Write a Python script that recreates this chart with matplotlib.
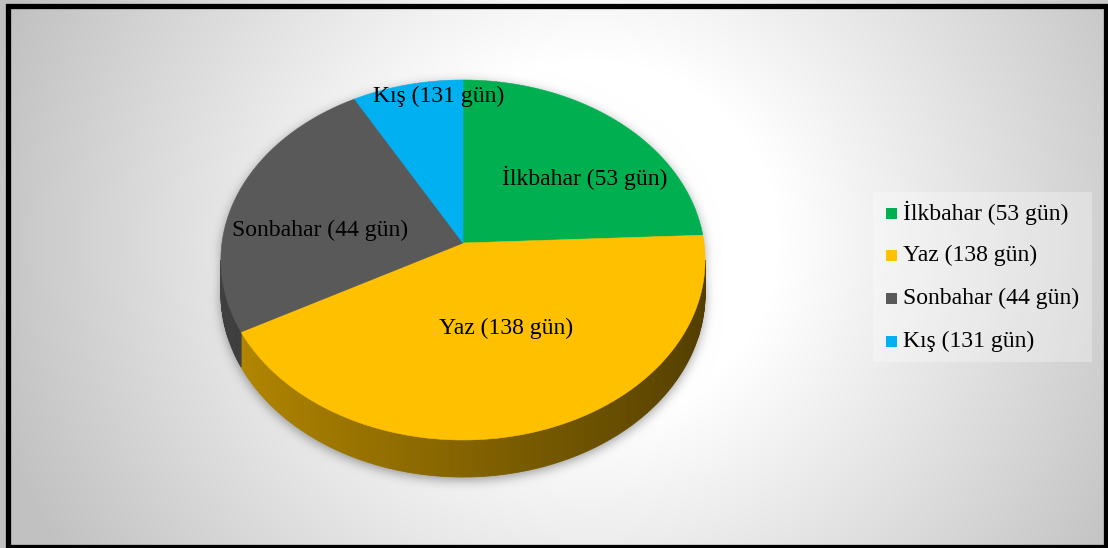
import numpy as np
import matplotlib
matplotlib.use('Agg')
import matplotlib.pyplot as plt
from matplotlib.patches import Polygon, Rectangle
from matplotlib.path import Path
from matplotlib.colors import to_rgb

# Data (slice shares, labels as printed)
seasons = ['İlkbahar (53 gün)', 'Yaz (138 gün)', 'Sonbahar (44 gün)', 'Kış (131 gün)']
shares = [24.3, 42.8, 24.8, 8.1]
colors = ['#00B050', '#FFC000', '#595959', '#00B0F0']

# label spots on the disk: (angle in degrees, radius fraction)
label_spots = [(35.8, 0.644), (-69.4, 0.487), (173.0, 0.60), (96.9, 0.894)]

W, H = 1108, 548
CX, CY = 463, 243          # pie apex in pixels
RX, RY = 241, 178.4        # disk radii
K = 0.0944                 # perspective strength
DEPTH = 33.5               # thickness of the pie

plt.rcParams['font.family'] = ['Liberation Serif', 'DejaVu Serif']
FS = 17


def proj(phi_deg, r=1.0, drop=0.0):
    phi = np.radians(phi_deg)
    u = r * np.cos(phi)
    v = r * np.sin(phi)
    p = 1.0 / (1.0 + K * v)
    x = CX + RX * u * p
    y = CY - RY * v * p + DEPTH * p * drop
    return x, y


fig = plt.figure(figsize=(W / 100, H / 100), dpi=100)
ax = fig.add_axes([0, 0, 1, 1])
ax.set_xlim(0, W)
ax.set_ylim(H, 0)
ax.axis('off')

# background radial gradient
yy, xx = np.mgrid[0:H, 0:W] + 0.5
d = np.hypot(xx - 590, (yy - 240) * 1.05)
shade = 1 - 0.24 * np.clip((d - 190) / 430, 0, 1)

# soft shadow around the pie silhouette
back = np.linspace(0, 180, 120)
front = np.linspace(180, 360, 120)
sx = np.concatenate([proj(back)[0], proj(front, drop=1)[0]])
sy = np.concatenate([proj(back)[1], proj(front, drop=1)[1]])
sil = Path(np.column_stack([sx, sy + 3]))
mask = sil.contains_points(np.column_stack([xx.ravel(), yy.ravel()])).reshape(H, W).astype(float)
t = np.arange(-18, 19)
kern = np.exp(-t ** 2 / (2 * 5.5 ** 2))
kern /= kern.sum()
blur = np.apply_along_axis(lambda m: np.convolve(m, kern, mode='same'), 1, mask)
blur = np.apply_along_axis(lambda m: np.convolve(m, kern, mode='same'), 0, blur)
shade = shade * (1 - 0.38 * blur)
img = np.dstack([shade] * 3)
ax.imshow(img, extent=(0, W, H, 0), aspect='auto', zorder=0, interpolation='bilinear')

# slice angle ranges, clockwise from 12 o'clock
cum = np.concatenate([[0], np.cumsum(shares)]) / sum(shares) * 360
starts = 90 - cum[:-1]
ends = 90 - cum[1:]

# side walls: only the front part between the two tangent points shows
tang = np.degrees(np.arcsin(K))
for a0, a1, col in zip(starts, ends, colors):
    lo, hi = max(a1, -180 + tang), min(a0, -tang)
    if hi <= lo:
        continue
    base = np.array(to_rgb(col))
    steps = np.linspace(lo, hi, int((hi - lo) / 0.8) + 2)
    for p0, p1 in zip(steps[:-1], steps[1:]):
        mid = np.radians((p0 + p1) / 2)
        f = 0.52 - 0.2 * np.cos(mid)
        c = np.clip(base * f, 0, 1)
        xa, ya = proj(np.array([p0, p1]))
        xb, yb = proj(np.array([p1, p0]), drop=1)
        quad = Polygon(np.column_stack([np.r_[xa, xb], np.r_[ya, yb]]),
                       closed=True, facecolor=c, edgecolor=c, lw=0.6, zorder=2)
        ax.add_patch(quad)

# top faces
for a0, a1, col in zip(starts, ends, colors):
    arc = np.linspace(a0, a1, 200)
    ex, ey = proj(arc)
    pts = np.column_stack([np.r_[CX, ex], np.r_[CY, ey]])
    ax.add_patch(Polygon(pts, closed=True, facecolor=col, edgecolor=col, lw=0.4, zorder=3))

# data labels
for name, (ang, r) in zip(seasons, label_spots):
    lx, ly = proj(ang, r)
    ax.text(lx, ly, name, fontsize=FS, ha='center', va='center', color='black', zorder=5)

# legend
ax.add_patch(Rectangle((873, 192), 219, 170, facecolor='white', alpha=0.3,
                       edgecolor='none', zorder=4))
row_y = 213 + 42.7 * np.arange(len(seasons))
for name, col, ry in zip(seasons, colors, row_y):
    ax.add_patch(Rectangle((886, ry - 5.5), 11, 11, facecolor=col, edgecolor='none', zorder=5))
    ax.text(903, ry, name, fontsize=FS, ha='left', va='center', color='black', zorder=5)

# chart border
ax.add_patch(Rectangle((8, 5.5), 1098, 541, fill=False, edgecolor='black', lw=3.8, zorder=6))

fig.savefig('out.png', dpi=100, facecolor='white')
